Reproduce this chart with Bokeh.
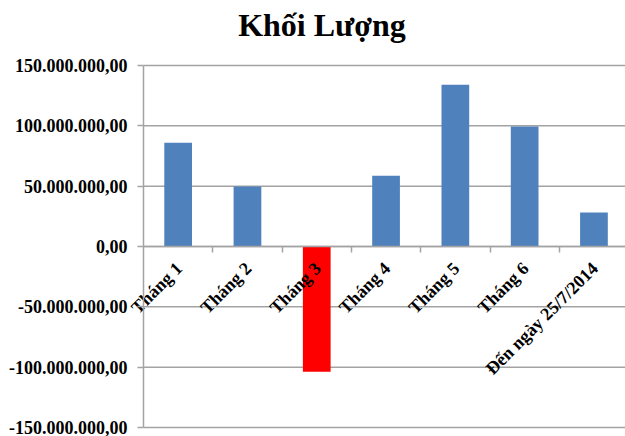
import math
from bokeh.plotting import figure
from bokeh.models import Range1d, FixedTicker, LinearAxis, Label
from bokeh.core.properties import value
from bokeh.embed import file_html
from bokeh.resources import INLINE

title_text = "Khối Lượng"
categories = ["Tháng 1", "Tháng 2", "Tháng 3", "Tháng 4", "Tháng 5", "Tháng 6", "Đến ngày 25/7/2014"]
volumes = [86000000, 49700000, -103700000, 58600000, 134000000, 99400000, 28200000]
y_ticks = [-150000000, -100000000, -50000000, 0, 50000000, 100000000, 150000000]
y_tick_labels = ["-150.000.000,00", "-100.000.000,00", "-50.000.000,00", "0,00",
                 "50.000.000,00", "100.000.000,00", "150.000.000,00"]

# layout (pixels)
W, H = 625, 436
PLOT_LEFT, PLOT_TOP, PLOT_BOTTOM = 143, 65, 427
CAT_W = 69.3
TITLE_CX, TITLE_BASE = 321.5, 24

POS = "#4F81BD"
NEG = "#FF0000"
GRID = "#A3A3A3"
FONT = "Liberation Serif"

y_min, y_max = y_ticks[0], y_ticks[-1]
per_px = (y_max - y_min) / (PLOT_BOTTOM - PLOT_TOP)
x_start = -PLOT_LEFT / CAT_W
x_end = (W - PLOT_LEFT) / CAT_W

xs = [i + 0.5 for i in range(len(categories))]
colors = [NEG if v < 0 else POS for v in volumes]

p = figure(width=W, height=H, output_backend="svg", toolbar_location=None,
           x_range=Range1d(x_start, x_end),
           y_range=Range1d(y_min - (H - PLOT_BOTTOM) * per_px, y_max + PLOT_TOP * per_px),
           min_border=0, outline_line_color=None,
           x_axis_location=None, y_axis_location=None)
p.xgrid.visible = False
p.ygrid.visible = False

# horizontal gridlines across the plot area
p.segment(x0=[0] * len(y_ticks), x1=[x_end] * len(y_ticks), y0=y_ticks, y1=y_ticks,
          line_color=GRID, line_width=1.5)

p.vbar(x=xs, top=volumes, bottom=0, width=0.40, fill_color=colors, line_color=None)

# value axis
yax = LinearAxis(fixed_location=0, bounds=(y_min, y_max), ticker=FixedTicker(ticks=y_ticks),
                 major_label_overrides={t: l for t, l in zip(y_ticks, y_tick_labels)},
                 major_label_text_font=FONT, major_label_text_font_style="bold",
                 major_label_text_font_size="18px", major_label_text_color="black",
                 major_tick_out=6, major_tick_in=0, major_label_standoff=10,
                 minor_tick_line_color=None, axis_line_color=GRID, axis_line_width=1.5,
                 major_tick_line_color=GRID, major_tick_line_width=1.5)
p.add_layout(yax, "left")

# category axis crossing at zero, tick marks between categories
boundaries = list(range(1, len(categories)))
xax = LinearAxis(fixed_location=0, bounds=(0, x_end), ticker=FixedTicker(ticks=boundaries),
                 major_label_overrides={b: "" for b in boundaries},
                 major_tick_out=6, major_tick_in=0,
                 minor_tick_line_color=None, axis_line_color=GRID, axis_line_width=1.5,
                 major_tick_line_color=GRID, major_tick_line_width=1.5)
p.add_layout(xax, "below")

# category names, rotated, under the zero line
p.text(x=xs, y=[0] * len(xs), text=categories, angle=math.pi / 4,
       text_align="right", text_baseline="middle", x_offset=1, y_offset=19,
       text_font=value(FONT), text_font_style="bold", text_font_size="18px",
       text_color="black")

# title
p.add_layout(Label(x=(TITLE_CX - PLOT_LEFT) / CAT_W, y=y_max + (PLOT_TOP - TITLE_BASE) * per_px,
                   text=title_text, text_align="center", text_baseline="alphabetic",
                   text_font=FONT, text_font_style="bold", text_font_size="32px",
                   text_color="black"))

open("out.html", "w").write(file_html(p, INLINE))
